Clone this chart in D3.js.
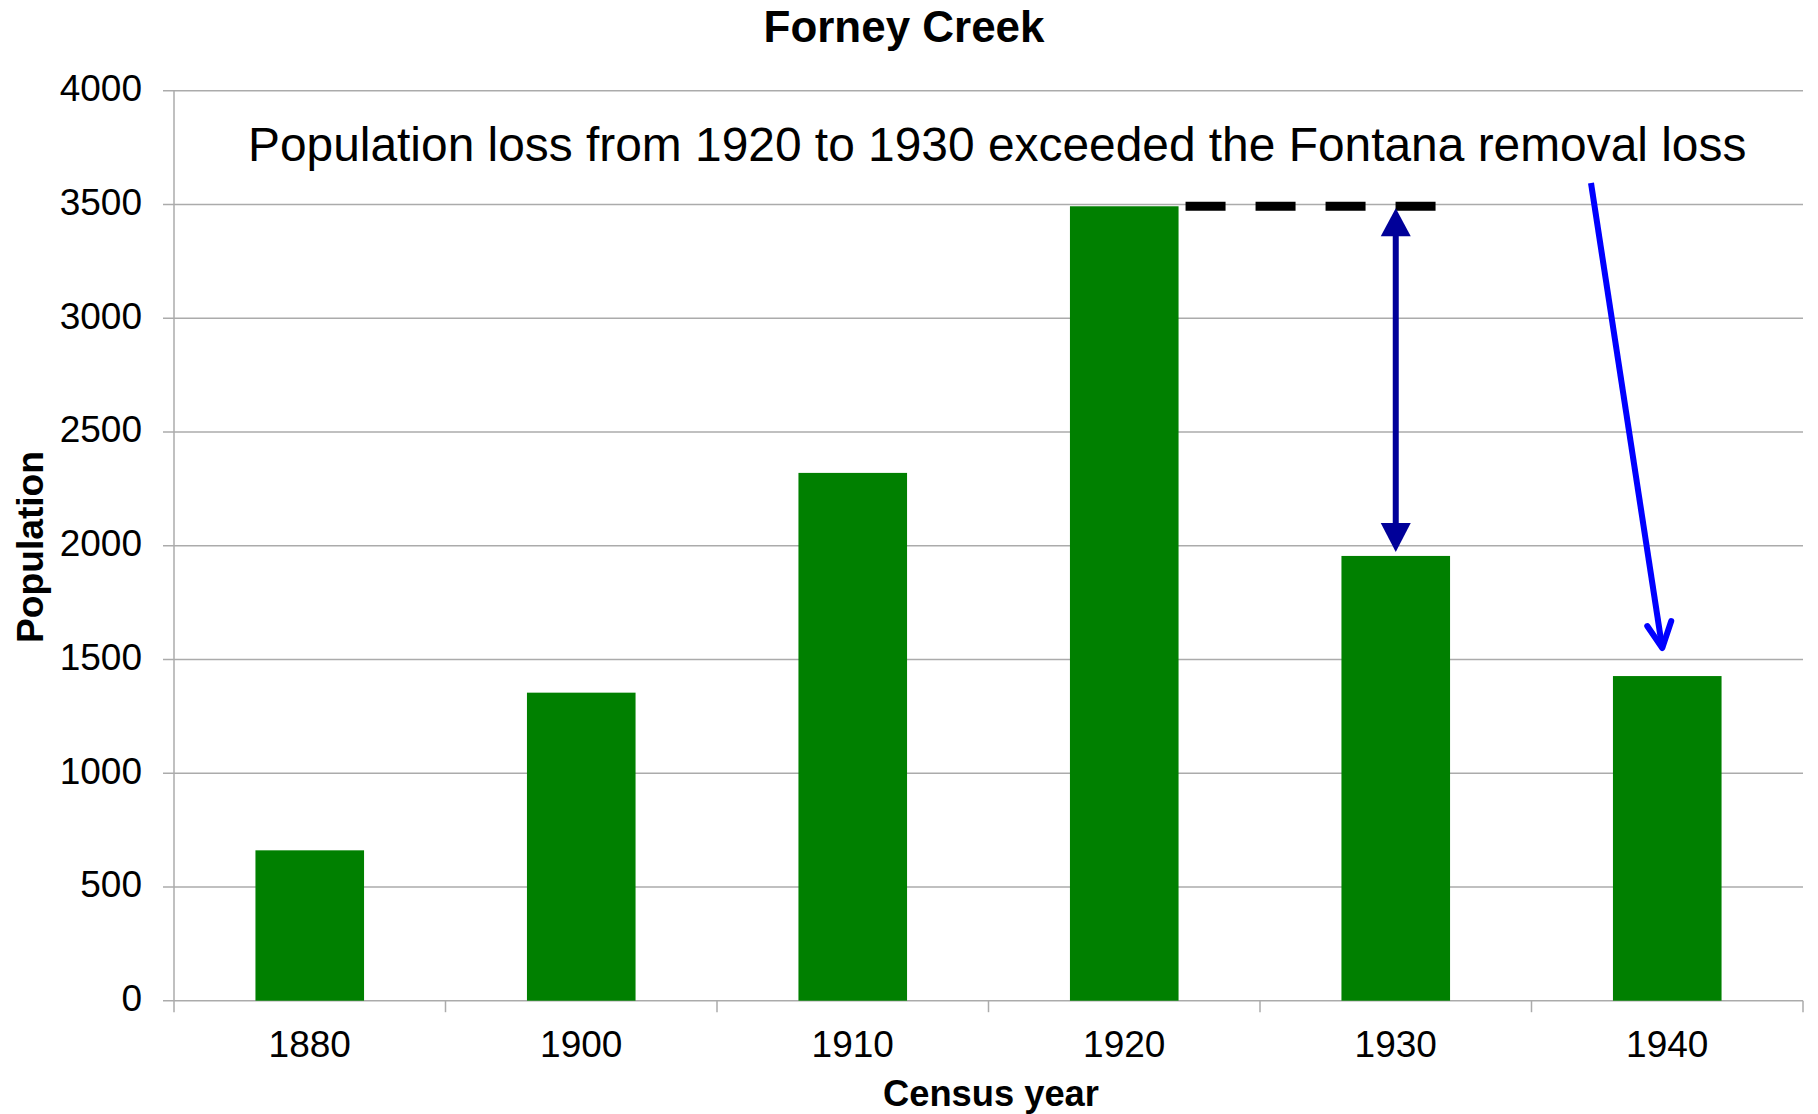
<!DOCTYPE html>
<html><head><meta charset="utf-8">
<script src="https://cdn.jsdelivr.net/npm/d3@7"></script>
<style>
body{margin:0;background:#fff}
text{font-family:"Liberation Sans",Arial,Helvetica,sans-serif;fill:#000}
</style>
</head><body>
<svg id="c" width="1818" height="1114"></svg>
<script>
// ---- data ----
const years = ["1880", "1900", "1910", "1920", "1930", "1940"];
const population = [661, 1354, 2320, 3492, 1955, 1427];
const yTicks = [0, 500, 1000, 1500, 2000, 2500, 3000, 3500, 4000];
const chartTitle = "Forney Creek";
const xTitle = "Census year";
const yTitle = "Population";
const note = "Population loss from 1920 to 1930 exceeded the Fontana removal loss";

// ---- layout ----
const L = 174, R = 1803, T = 90.7, B = 1000.7;
const svg = d3.select("#c");
const x = d3.scaleBand().domain(years).range([L, R]).paddingInner(0.6).paddingOuter(0.3);
const y = d3.scaleLinear().domain([0, 4000]).range([B, T]);
const grid = "#ababab";

function fit(sel, target) {
  const w = sel.node().getComputedTextLength();
  const fs = parseFloat(sel.attr("font-size"));
  sel.attr("font-size", fs * target / w);
}

// gridlines
svg.append("g").selectAll("line").data(yTicks).join("line")
  .attr("x1", L - 11).attr("x2", R)
  .attr("y1", d => y(d)).attr("y2", d => y(d))
  .attr("stroke", grid).attr("stroke-width", 1.5);

// y axis line
svg.append("line").attr("x1", L).attr("x2", L).attr("y1", T).attr("y2", B + 11.5)
  .attr("stroke", grid).attr("stroke-width", 1.5);

// x ticks at category boundaries
const bounds = d3.range(years.length + 1).map(i => L + i * x.step());
svg.append("g").selectAll("line").data(bounds.slice(1)).join("line")
  .attr("x1", d => d).attr("x2", d => d).attr("y1", B).attr("y2", B + 11.5)
  .attr("stroke", grid).attr("stroke-width", 1.5);

// bars
svg.append("g").selectAll("rect").data(years).join("rect")
  .attr("x", d => x(d)).attr("width", x.bandwidth())
  .attr("y", (d, i) => y(population[i]))
  .attr("height", (d, i) => B - y(population[i]))
  .attr("fill", "#008000");

// y tick labels
svg.append("g").selectAll("text").data(yTicks).join("text")
  .attr("x", 142).attr("y", d => y(d) + 10.5)
  .attr("text-anchor", "end").attr("font-size", 37)
  .text(d => d);

// x tick labels
svg.append("g").selectAll("text").data(years).join("text")
  .attr("x", d => x(d) + x.bandwidth() / 2).attr("y", 1057)
  .attr("text-anchor", "middle").attr("font-size", 37)
  .text(d => d);

// titles
const tt = svg.append("text").attr("x", 904).attr("y", 42).attr("text-anchor", "middle")
  .attr("font-size", 40).attr("font-weight", "bold").text(chartTitle);
fit(tt, 281);
const xt = svg.append("text").attr("x", 991).attr("y", 1106).attr("text-anchor", "middle")
  .attr("font-size", 36).attr("font-weight", "bold").text(xTitle);
fit(xt, 216);
const yt = svg.append("text").attr("transform", "translate(43,547) rotate(-90)")
  .attr("text-anchor", "middle").attr("font-size", 36).attr("font-weight", "bold").text(yTitle);
fit(yt, 192);

// annotation text
const nt = svg.append("text").attr("x", 248).attr("y", 161).attr("font-size", 48).text(note);
fit(nt, 1499);

// dashed line at 1920 level
const cx1930 = x("1930") + x.bandwidth() / 2;
const cx1940 = x("1940") + x.bandwidth() / 2;
svg.append("line")
  .attr("x1", x("1920") + x.bandwidth() + 7).attr("x2", cx1930 + 40)
  .attr("y1", y(population[3])).attr("y2", y(population[3]))
  .attr("stroke", "#000").attr("stroke-width", 9).attr("stroke-dasharray", "40,30");

// double arrow 1920 -> 1930
const navy = "#000099";
const topTip = y(population[3]) + 2, botTip = y(population[4]) - 4;
svg.append("line").attr("x1", cx1930).attr("x2", cx1930)
  .attr("y1", topTip + 20).attr("y2", botTip - 20)
  .attr("stroke", navy).attr("stroke-width", 6);
svg.append("path").attr("fill", navy)
  .attr("d", `M${cx1930},${topTip} L${cx1930 + 15},${topTip + 28} L${cx1930 - 15},${topTip + 28} Z`);
svg.append("path").attr("fill", navy)
  .attr("d", `M${cx1930},${botTip} L${cx1930 + 15},${botTip - 29} L${cx1930 - 15},${botTip - 29} Z`);

// blue arrow from note to 1940 bar
const tipX = cx1940 - 5, tipY = y(population[5]) - 28;
const startX = 1591, startY = 183;
svg.append("line").attr("x1", startX).attr("y1", startY).attr("x2", tipX).attr("y2", tipY)
  .attr("stroke", "#0000ff").attr("stroke-width", 6);
svg.append("path")
  .attr("d", `M${tipX - 15},${tipY - 22} L${tipX},${tipY} L${tipX + 9},${tipY - 27}`)
  .attr("fill", "none").attr("stroke", "#0000ff").attr("stroke-width", 6)
  .attr("stroke-linecap", "round").attr("stroke-linejoin", "round");
</script>
</body></html>
